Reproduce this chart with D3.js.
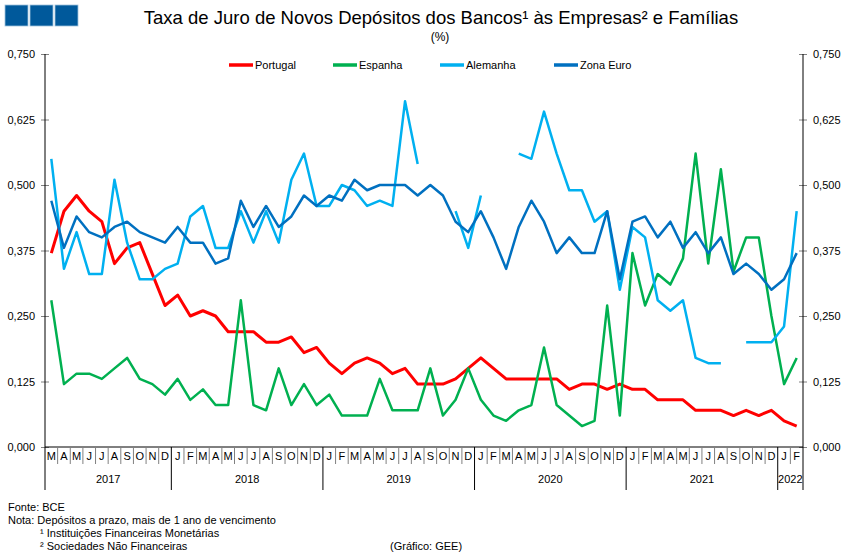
<!DOCTYPE html>
<html>
<head>
<meta charset="utf-8">
<script src="https://cdn.jsdelivr.net/npm/d3@7"></script>
<style>
  body { margin: 0; background: #fff; }
  text { font-family: "Liberation Sans", Arial, sans-serif; fill: #000; }
</style>
</head>
<body>
<script>
// monthly values, Mar 2017 .. Feb 2022 (null = no data)
const years = [2017, 2018, 2019, 2020, 2021, 2022];
const monthLetters = ["J", "F", "M", "A", "M", "J", "J", "A", "S", "O", "N", "D"];
const startMonth = 2; // March 2017
const yTicks = [0, 0.125, 0.25, 0.375, 0.5, 0.625, 0.75];

const portugal = [
  0.37, 0.45, 0.48, 0.45, 0.43, 0.35, 0.38, 0.39, 0.33, 0.27,
  0.29, 0.25, 0.26, 0.25, 0.22, 0.22, 0.22, 0.20, 0.20, 0.21, 0.18, 0.19,
  0.16, 0.14, 0.16, 0.17, 0.16, 0.14, 0.15, 0.12, 0.12, 0.12, 0.13, 0.15,
  0.17, 0.15, 0.13, 0.13, 0.13, 0.13, 0.13, 0.11, 0.12, 0.12, 0.11, 0.12,
  0.11, 0.11, 0.09, 0.09, 0.09, 0.07, 0.07, 0.07, 0.06, 0.07, 0.06, 0.07,
  0.05, 0.04
];
const espanha = [
  0.28, 0.12, 0.14, 0.14, 0.13, 0.15, 0.17, 0.13, 0.12, 0.10,
  0.13, 0.09, 0.11, 0.08, 0.08, 0.28, 0.08, 0.07, 0.15, 0.08, 0.12, 0.08,
  0.10, 0.06, 0.06, 0.06, 0.13, 0.07, 0.07, 0.07, 0.15, 0.06, 0.09, 0.15,
  0.09, 0.06, 0.05, 0.07, 0.08, 0.19, 0.08, 0.06, 0.04, 0.05, 0.27, 0.06,
  0.37, 0.27, 0.33, 0.31, 0.36, 0.56, 0.35, 0.53, 0.335, 0.40, 0.40, 0.25,
  0.12, 0.17
];
const alemanha = [
  0.55, 0.34, 0.41, 0.33, 0.33, 0.51, 0.39, 0.32, 0.32, 0.34,
  0.35, 0.44, 0.46, 0.38, 0.38, 0.45, 0.39, 0.45, 0.39, 0.51, 0.56, 0.46,
  0.46, 0.50, 0.49, 0.46, 0.47, 0.46, 0.66, 0.54, null, null, 0.45, 0.38,
  0.48, null, null, 0.56, 0.55, 0.64, 0.56, 0.49, 0.49, 0.43, 0.45, 0.30,
  0.42, 0.40, 0.28, 0.26, 0.28, 0.17, 0.16, 0.16, null, 0.20, 0.20, 0.20,
  0.23, 0.45
];
const zonaEuro = [
  0.47, 0.38, 0.44, 0.41, 0.40, 0.42, 0.43, 0.41, 0.40, 0.39,
  0.42, 0.39, 0.39, 0.35, 0.36, 0.47, 0.42, 0.46, 0.42, 0.44, 0.48, 0.46,
  0.48, 0.47, 0.51, 0.49, 0.50, 0.50, 0.50, 0.48, 0.50, 0.48, 0.43, 0.41,
  0.45, 0.40, 0.34, 0.42, 0.47, 0.43, 0.37, 0.40, 0.37, 0.37, 0.45, 0.32,
  0.43, 0.44, 0.40, 0.43, 0.38, 0.41, 0.37, 0.40, 0.33, 0.35, 0.33, 0.30,
  0.32, 0.37
];

const series = [
  { name: "Portugal", values: portugal, color: "#ff0000", width: 3 },
  { name: "Espanha", values: espanha, color: "#00b050", width: 2.5 },
  { name: "Alemanha", values: alemanha, color: "#00b0f0", width: 2.5 },
  { name: "Zona Euro", values: zonaEuro, color: "#0070c0", width: 2.5 }
];

const width = 850, height = 560;
const plotL = 45, plotR = 803, plotT = 54, plotB = 447;

const svg = d3.select("body").append("svg")
  .attr("width", width)
  .attr("height", height);

const months = d3.range(portugal.length);
const x = d3.scaleBand().domain(months).range([plotL, plotR]).padding(0);
const y = d3.scaleLinear().domain([0, 0.75]).range([plotB, plotT]);
const cx = i => x(i) + x.bandwidth() / 2;

// header blocks
svg.selectAll("rect.logo")
  .data([0, 1, 2])
  .enter().append("rect")
  .attr("class", "logo")
  .attr("x", d => 5 + d * 25)
  .attr("y", 5)
  .attr("width", 23)
  .attr("height", 21)
  .attr("fill", "#00599b")
  .attr("stroke", "#9fc2dd")
  .attr("stroke-width", 0.8);

svg.append("text")
  .attr("x", 441).attr("y", 24)
  .attr("text-anchor", "middle")
  .style("font-size", "18.5px")
  .text("Taxa de Juro de Novos Depósitos dos Bancos¹ às Empresas² e Famílias");

svg.append("text")
  .attr("x", 440).attr("y", 41)
  .attr("text-anchor", "middle")
  .style("font-size", "12px")
  .text("(%)");

// y axes
const fmt = d => d3.format(".3f")(d).replace(".", ",");

const yLeft = svg.append("g")
  .attr("transform", `translate(${plotL},0)`)
  .call(d3.axisLeft(y).tickValues(yTicks).tickFormat(fmt).tickSize(4).tickPadding(6));
const yRight = svg.append("g")
  .attr("transform", `translate(${plotR},0)`)
  .call(d3.axisRight(y).tickValues(yTicks).tickFormat(fmt).tickSize(4).tickPadding(6));

[yLeft, yRight].forEach((g, k) => {
  g.select(".domain").remove();
  g.selectAll(".tick line").attr("stroke", "#808080");
  g.selectAll(".tick").append("line")
    .attr("x2", k === 0 ? 4 : -4)
    .attr("stroke", "#808080");
  g.selectAll(".tick text").style("font-size", "11px").attr("fill", "#000");
  g.append("line")
    .attr("y1", plotT).attr("y2", 490)
    .attr("stroke", "#000");
});

// x axis: months and years
svg.append("line")
  .attr("x1", plotL).attr("x2", plotR)
  .attr("y1", plotB).attr("y2", plotB)
  .attr("stroke", "#000");

const monthOf = i => (startMonth + i) % 12;

svg.selectAll("line.msep")
  .data(months.slice(1))
  .enter().append("line")
  .attr("class", "msep")
  .attr("x1", d => x(d)).attr("x2", d => x(d))
  .attr("y1", plotB)
  .attr("y2", d => monthOf(d) === 0 ? 490 : 464)
  .attr("stroke", d => monthOf(d) === 0 ? "#000" : "#808080");

svg.selectAll("text.month")
  .data(months)
  .enter().append("text")
  .attr("class", "month")
  .attr("x", cx)
  .attr("y", 460)
  .attr("text-anchor", "middle")
  .style("font-size", "11px")
  .text(d => monthLetters[monthOf(d)]);

const yearSpans = years.map(yr => {
  const idx = months.filter(i => 2017 + Math.floor((startMonth + i) / 12) === yr);
  return { yr, a: x(idx[0]), b: x(idx[idx.length - 1]) + x.bandwidth() };
});

svg.selectAll("text.year")
  .data(yearSpans)
  .enter().append("text")
  .attr("class", "year")
  .attr("x", d => (d.a + d.b) / 2)
  .attr("y", 483)
  .attr("text-anchor", "middle")
  .style("font-size", "11px")
  .text(d => d.yr);

// lines
const line = d3.line()
  .defined(d => d != null)
  .x((d, i) => cx(i))
  .y(d => y(d));

svg.selectAll("path.series")
  .data(series)
  .enter().append("path")
  .attr("class", "series")
  .attr("fill", "none")
  .attr("stroke", d => d.color)
  .attr("stroke-width", d => d.width)
  .attr("stroke-linejoin", "round")
  .attr("d", d => line(d.values));

// legend
const legendX = [229, 333, 440, 554];
const legend = svg.selectAll("g.legend")
  .data(series)
  .enter().append("g")
  .attr("class", "legend")
  .attr("transform", (d, i) => `translate(${legendX[i]},65)`);
legend.append("line")
  .attr("x1", 0).attr("x2", 24)
  .attr("stroke", d => d.color)
  .attr("stroke-width", 3.5);
legend.append("text")
  .attr("x", 26).attr("y", 4)
  .style("font-size", "11px")
  .text(d => d.name);

// notes
const notes = [
  { x: 8, y: 511, t: "Fonte: BCE" },
  { x: 8, y: 524, t: "Nota: Depósitos a prazo, mais de 1 ano de vencimento" },
  { x: 40, y: 537, t: "¹ Instituições Financeiras Monetárias" },
  { x: 40, y: 550, t: "² Sociedades Não Financeiras" },
  { x: 390, y: 550, t: "(Gráfico: GEE)" }
];
svg.selectAll("text.note")
  .data(notes)
  .enter().append("text")
  .attr("class", "note")
  .attr("x", d => d.x).attr("y", d => d.y)
  .style("font-size", "11px")
  .text(d => d.t);
</script>
</body>
</html>
